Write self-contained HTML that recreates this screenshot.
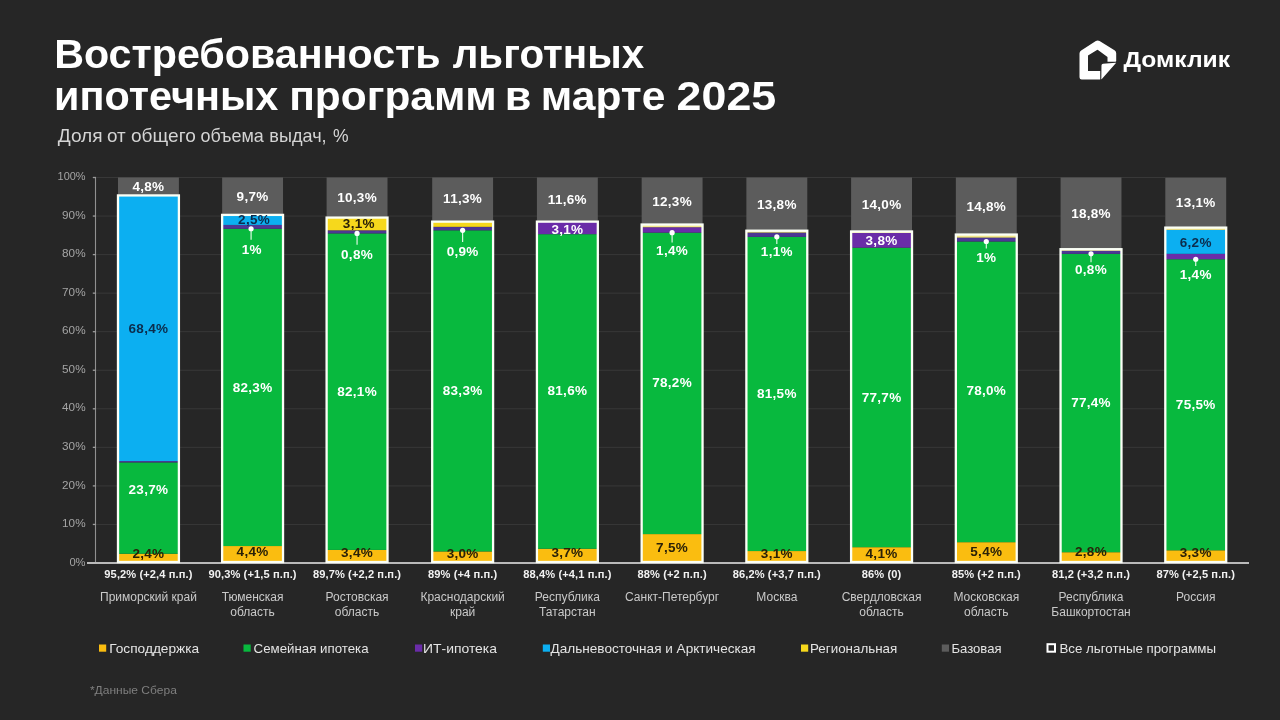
<!DOCTYPE html>
<html><head><meta charset="utf-8">
<style>
html,body{margin:0;padding:0;background:#262626;}
body{width:1280px;height:720px;overflow:hidden;}
svg{display:block;font-family:"Liberation Sans", sans-serif;will-change:transform;}
</style></head>
<body>
<svg width="1280" height="720" viewBox="0 0 1280 720">
<rect width="1280" height="720" fill="#262626"/>
<line x1="96" y1="524.45" x2="1165.30" y2="524.45" stroke="#383838" stroke-width="1"/>
<line x1="96" y1="485.90" x2="1165.30" y2="485.90" stroke="#383838" stroke-width="1"/>
<line x1="96" y1="447.35" x2="1165.30" y2="447.35" stroke="#383838" stroke-width="1"/>
<line x1="96" y1="408.80" x2="1165.30" y2="408.80" stroke="#383838" stroke-width="1"/>
<line x1="96" y1="370.25" x2="1165.30" y2="370.25" stroke="#383838" stroke-width="1"/>
<line x1="96" y1="331.70" x2="1165.30" y2="331.70" stroke="#383838" stroke-width="1"/>
<line x1="96" y1="293.15" x2="1165.30" y2="293.15" stroke="#383838" stroke-width="1"/>
<line x1="96" y1="254.60" x2="1165.30" y2="254.60" stroke="#383838" stroke-width="1"/>
<line x1="96" y1="216.05" x2="1165.30" y2="216.05" stroke="#383838" stroke-width="1"/>
<line x1="96" y1="177.50" x2="1165.30" y2="177.50" stroke="#383838" stroke-width="1"/>
<line x1="95.5" y1="177.50" x2="95.5" y2="563.00" stroke="#909090" stroke-width="1.1"/>
<line x1="92.8" y1="563.00" x2="96" y2="563.00" stroke="#9a9a9a" stroke-width="1.3"/>
<text x="69.40" y="565.60" font-size="11.6" fill="#a4a4a4" textLength="16.2" lengthAdjust="spacingAndGlyphs">0%</text>
<line x1="92.8" y1="524.45" x2="96" y2="524.45" stroke="#9a9a9a" stroke-width="1.3"/>
<text x="62.10" y="527.05" font-size="11.6" fill="#a4a4a4" textLength="23.5" lengthAdjust="spacingAndGlyphs">10%</text>
<line x1="92.8" y1="485.90" x2="96" y2="485.90" stroke="#9a9a9a" stroke-width="1.3"/>
<text x="62.10" y="488.50" font-size="11.6" fill="#a4a4a4" textLength="23.5" lengthAdjust="spacingAndGlyphs">20%</text>
<line x1="92.8" y1="447.35" x2="96" y2="447.35" stroke="#9a9a9a" stroke-width="1.3"/>
<text x="62.10" y="449.95" font-size="11.6" fill="#a4a4a4" textLength="23.5" lengthAdjust="spacingAndGlyphs">30%</text>
<line x1="92.8" y1="408.80" x2="96" y2="408.80" stroke="#9a9a9a" stroke-width="1.3"/>
<text x="62.10" y="411.40" font-size="11.6" fill="#a4a4a4" textLength="23.5" lengthAdjust="spacingAndGlyphs">40%</text>
<line x1="92.8" y1="370.25" x2="96" y2="370.25" stroke="#9a9a9a" stroke-width="1.3"/>
<text x="62.10" y="372.85" font-size="11.6" fill="#a4a4a4" textLength="23.5" lengthAdjust="spacingAndGlyphs">50%</text>
<line x1="92.8" y1="331.70" x2="96" y2="331.70" stroke="#9a9a9a" stroke-width="1.3"/>
<text x="62.10" y="334.30" font-size="11.6" fill="#a4a4a4" textLength="23.5" lengthAdjust="spacingAndGlyphs">60%</text>
<line x1="92.8" y1="293.15" x2="96" y2="293.15" stroke="#9a9a9a" stroke-width="1.3"/>
<text x="62.10" y="295.75" font-size="11.6" fill="#a4a4a4" textLength="23.5" lengthAdjust="spacingAndGlyphs">70%</text>
<line x1="92.8" y1="254.60" x2="96" y2="254.60" stroke="#9a9a9a" stroke-width="1.3"/>
<text x="62.10" y="257.20" font-size="11.6" fill="#a4a4a4" textLength="23.5" lengthAdjust="spacingAndGlyphs">80%</text>
<line x1="92.8" y1="216.05" x2="96" y2="216.05" stroke="#9a9a9a" stroke-width="1.3"/>
<text x="62.10" y="218.65" font-size="11.6" fill="#a4a4a4" textLength="23.5" lengthAdjust="spacingAndGlyphs">90%</text>
<line x1="92.8" y1="177.50" x2="96" y2="177.50" stroke="#9a9a9a" stroke-width="1.3"/>
<text x="57.60" y="180.10" font-size="11.6" fill="#a4a4a4" textLength="28" lengthAdjust="spacingAndGlyphs">100%</text>
<line x1="87" y1="563.00" x2="1249" y2="563.00" stroke="#bababa" stroke-width="2"/>
<rect x="118.00" y="553.75" width="60.90" height="9.25" fill="#fabd10"/>
<rect x="118.00" y="462.38" width="60.90" height="91.36" fill="#08b93e"/>
<rect x="118.00" y="461.04" width="60.90" height="1.35" fill="#4c3794"/>
<rect x="118.00" y="195.43" width="60.90" height="265.61" fill="#0caff1"/>
<rect x="118.00" y="177.50" width="60.90" height="17.93" fill="#5c5c5c"/>
<rect x="118.00" y="195.43" width="60.90" height="366.57" fill="none" stroke="#fbfff6" stroke-width="2.3"/>
<text x="148.45" y="191.00" text-anchor="middle" font-size="13.5" font-weight="bold" letter-spacing="0.3" fill="#fff">4,8%</text>
<text x="148.45" y="332.90" text-anchor="middle" font-size="13.5" font-weight="bold" letter-spacing="0.3" fill="#0c2c4c">68,4%</text>
<text x="148.45" y="494.00" text-anchor="middle" font-size="13.5" font-weight="bold" letter-spacing="0.3" fill="#fff">23,7%</text>
<text x="148.45" y="558.20" text-anchor="middle" font-size="13.5" font-weight="bold" letter-spacing="0.3" fill="#2a2108">2,4%</text>
<text x="148.45" y="578" text-anchor="middle" font-size="11.1" font-weight="bold" letter-spacing="0.1" fill="#f2f2f2">95,2% (+2,4 п.п.)</text>
<text x="148.45" y="601.00" text-anchor="middle" font-size="12" fill="#c9c9c9">Приморский край</text>
<rect x="222.13" y="546.04" width="60.90" height="16.96" fill="#fabd10"/>
<rect x="222.13" y="228.77" width="60.90" height="317.27" fill="#08b93e"/>
<rect x="222.13" y="224.92" width="60.90" height="3.86" fill="#4c3794"/>
<rect x="222.13" y="215.28" width="60.90" height="9.64" fill="#0caff1"/>
<rect x="222.13" y="214.89" width="60.90" height="0.39" fill="#f2e68c"/>
<rect x="222.13" y="177.50" width="60.90" height="37.39" fill="#5c5c5c"/>
<rect x="222.13" y="214.89" width="60.90" height="347.11" fill="none" stroke="#fbfff6" stroke-width="2.3"/>
<line x1="251.08" y1="228.77" x2="251.08" y2="239.80" stroke="#eefff0" stroke-width="1.1"/>
<circle cx="251.08" cy="228.77" r="2.6" fill="#fff"/>
<text x="252.58" y="201.40" text-anchor="middle" font-size="13.5" font-weight="bold" letter-spacing="0.3" fill="#fff">9,7%</text>
<text x="254.08" y="223.90" text-anchor="middle" font-size="13.5" font-weight="bold" letter-spacing="0.3" fill="#0c2c4c">2,5%</text>
<text x="251.78" y="253.70" text-anchor="middle" font-size="13.5" font-weight="bold" letter-spacing="0.3" fill="#fff">1%</text>
<text x="252.58" y="391.80" text-anchor="middle" font-size="13.5" font-weight="bold" letter-spacing="0.3" fill="#fff">82,3%</text>
<text x="252.58" y="556.30" text-anchor="middle" font-size="13.5" font-weight="bold" letter-spacing="0.3" fill="#2a2108">4,4%</text>
<text x="252.58" y="578" text-anchor="middle" font-size="11.1" font-weight="bold" letter-spacing="0.1" fill="#f2f2f2">90,3% (+1,5 п.п.)</text>
<text x="252.58" y="601.00" text-anchor="middle" font-size="12" fill="#c9c9c9">Тюменская</text>
<text x="252.58" y="615.70" text-anchor="middle" font-size="12" fill="#c9c9c9">область</text>
<rect x="326.61" y="549.89" width="60.90" height="13.11" fill="#fabd10"/>
<rect x="326.61" y="233.40" width="60.90" height="316.50" fill="#08b93e"/>
<rect x="326.61" y="230.31" width="60.90" height="3.08" fill="#4c3794"/>
<rect x="326.61" y="217.59" width="60.90" height="12.72" fill="#f6d81c"/>
<rect x="326.61" y="177.50" width="60.90" height="40.09" fill="#5c5c5c"/>
<rect x="326.61" y="217.59" width="60.90" height="344.41" fill="none" stroke="#fbfff6" stroke-width="2.3"/>
<line x1="357.06" y1="233.40" x2="357.06" y2="244.80" stroke="#eefff0" stroke-width="1.1"/>
<circle cx="357.06" cy="233.40" r="2.6" fill="#fff"/>
<text x="357.06" y="202.00" text-anchor="middle" font-size="13.5" font-weight="bold" letter-spacing="0.3" fill="#fff">10,3%</text>
<text x="358.86" y="228.30" text-anchor="middle" font-size="13.5" font-weight="bold" letter-spacing="0.3" fill="#2a2108">3,1%</text>
<text x="357.06" y="258.50" text-anchor="middle" font-size="13.5" font-weight="bold" letter-spacing="0.3" fill="#fff">0,8%</text>
<text x="357.06" y="395.60" text-anchor="middle" font-size="13.5" font-weight="bold" letter-spacing="0.3" fill="#fff">82,1%</text>
<text x="357.06" y="557.40" text-anchor="middle" font-size="13.5" font-weight="bold" letter-spacing="0.3" fill="#2a2108">3,4%</text>
<text x="357.06" y="578" text-anchor="middle" font-size="11.1" font-weight="bold" letter-spacing="0.1" fill="#f2f2f2">89,7% (+2,2 п.п.)</text>
<text x="357.06" y="601.00" text-anchor="middle" font-size="12" fill="#c9c9c9">Ростовская</text>
<text x="357.06" y="615.70" text-anchor="middle" font-size="12" fill="#c9c9c9">область</text>
<rect x="432.19" y="551.43" width="60.90" height="11.57" fill="#fabd10"/>
<rect x="432.19" y="230.31" width="60.90" height="321.12" fill="#08b93e"/>
<rect x="432.19" y="226.84" width="60.90" height="3.47" fill="#4c3794"/>
<rect x="432.19" y="221.64" width="60.90" height="5.20" fill="#f6d81c"/>
<rect x="432.19" y="177.50" width="60.90" height="44.14" fill="#5c5c5c"/>
<rect x="432.19" y="221.64" width="60.90" height="340.36" fill="none" stroke="#fbfff6" stroke-width="2.3"/>
<line x1="462.64" y1="230.31" x2="462.64" y2="241.90" stroke="#eefff0" stroke-width="1.1"/>
<circle cx="462.64" cy="230.31" r="2.6" fill="#fff"/>
<text x="462.64" y="203.30" text-anchor="middle" font-size="13.5" font-weight="bold" letter-spacing="0.3" fill="#fff">11,3%</text>
<text x="462.64" y="255.70" text-anchor="middle" font-size="13.5" font-weight="bold" letter-spacing="0.3" fill="#fff">0,9%</text>
<text x="462.64" y="394.90" text-anchor="middle" font-size="13.5" font-weight="bold" letter-spacing="0.3" fill="#fff">83,3%</text>
<text x="462.64" y="558.20" text-anchor="middle" font-size="13.5" font-weight="bold" letter-spacing="0.3" fill="#2a2108">3,0%</text>
<text x="462.64" y="578" text-anchor="middle" font-size="11.1" font-weight="bold" letter-spacing="0.1" fill="#f2f2f2">89% (+4 п.п.)</text>
<text x="462.64" y="601.00" text-anchor="middle" font-size="12" fill="#c9c9c9">Краснодарский</text>
<text x="462.64" y="615.70" text-anchor="middle" font-size="12" fill="#c9c9c9">край</text>
<rect x="536.92" y="548.74" width="60.90" height="14.26" fill="#fabd10"/>
<rect x="536.92" y="234.17" width="60.90" height="314.57" fill="#08b93e"/>
<rect x="536.92" y="221.64" width="60.90" height="12.53" fill="#6a2ca8"/>
<rect x="536.92" y="177.50" width="60.90" height="44.14" fill="#5c5c5c"/>
<rect x="536.92" y="221.64" width="60.90" height="340.36" fill="none" stroke="#fbfff6" stroke-width="2.3"/>
<text x="567.37" y="204.00" text-anchor="middle" font-size="13.5" font-weight="bold" letter-spacing="0.3" fill="#fff">11,6%</text>
<text x="567.37" y="233.50" text-anchor="middle" font-size="13.5" font-weight="bold" letter-spacing="0.3" fill="#fff">3,1%</text>
<text x="567.37" y="394.90" text-anchor="middle" font-size="13.5" font-weight="bold" letter-spacing="0.3" fill="#fff">81,6%</text>
<text x="567.37" y="557.40" text-anchor="middle" font-size="13.5" font-weight="bold" letter-spacing="0.3" fill="#2a2108">3,7%</text>
<text x="567.37" y="578" text-anchor="middle" font-size="11.1" font-weight="bold" letter-spacing="0.1" fill="#f2f2f2">88,4% (+4,1 п.п.)</text>
<text x="567.37" y="601.00" text-anchor="middle" font-size="12" fill="#c9c9c9">Республика</text>
<text x="567.37" y="615.70" text-anchor="middle" font-size="12" fill="#c9c9c9">Татарстан</text>
<rect x="641.65" y="534.09" width="60.90" height="28.91" fill="#fabd10"/>
<rect x="641.65" y="232.63" width="60.90" height="301.46" fill="#08b93e"/>
<rect x="641.65" y="227.23" width="60.90" height="5.40" fill="#6a2ca8"/>
<rect x="641.65" y="224.53" width="60.90" height="2.70" fill="#f2e68c"/>
<rect x="641.65" y="177.50" width="60.90" height="47.03" fill="#5c5c5c"/>
<rect x="641.65" y="224.53" width="60.90" height="337.47" fill="none" stroke="#fbfff6" stroke-width="2.3"/>
<line x1="672.10" y1="232.63" x2="672.10" y2="242.40" stroke="#eefff0" stroke-width="1.1"/>
<circle cx="672.10" cy="232.63" r="2.6" fill="#fff"/>
<text x="672.10" y="205.55" text-anchor="middle" font-size="13.5" font-weight="bold" letter-spacing="0.3" fill="#fff">12,3%</text>
<text x="672.10" y="255.00" text-anchor="middle" font-size="13.5" font-weight="bold" letter-spacing="0.3" fill="#fff">1,4%</text>
<text x="672.10" y="387.10" text-anchor="middle" font-size="13.5" font-weight="bold" letter-spacing="0.3" fill="#fff">78,2%</text>
<text x="672.10" y="552.30" text-anchor="middle" font-size="13.5" font-weight="bold" letter-spacing="0.3" fill="#2a2108">7,5%</text>
<text x="672.10" y="578" text-anchor="middle" font-size="11.1" font-weight="bold" letter-spacing="0.1" fill="#f2f2f2">88% (+2 п.п.)</text>
<text x="672.10" y="601.00" text-anchor="middle" font-size="12" fill="#c9c9c9">Санкт-Петербург</text>
<rect x="746.38" y="551.05" width="60.90" height="11.95" fill="#fabd10"/>
<rect x="746.38" y="236.87" width="60.90" height="314.18" fill="#08b93e"/>
<rect x="746.38" y="232.63" width="60.90" height="4.24" fill="#4c3794"/>
<rect x="746.38" y="230.70" width="60.90" height="1.93" fill="#f2e68c"/>
<rect x="746.38" y="177.50" width="60.90" height="53.20" fill="#5c5c5c"/>
<rect x="746.38" y="230.70" width="60.90" height="331.30" fill="none" stroke="#fbfff6" stroke-width="2.3"/>
<line x1="776.83" y1="236.87" x2="776.83" y2="243.90" stroke="#eefff0" stroke-width="1.1"/>
<circle cx="776.83" cy="236.87" r="2.6" fill="#fff"/>
<text x="776.83" y="208.70" text-anchor="middle" font-size="13.5" font-weight="bold" letter-spacing="0.3" fill="#fff">13,8%</text>
<text x="776.83" y="255.90" text-anchor="middle" font-size="13.5" font-weight="bold" letter-spacing="0.3" fill="#fff">1,1%</text>
<text x="776.83" y="398.00" text-anchor="middle" font-size="13.5" font-weight="bold" letter-spacing="0.3" fill="#fff">81,5%</text>
<text x="776.83" y="558.20" text-anchor="middle" font-size="13.5" font-weight="bold" letter-spacing="0.3" fill="#2a2108">3,1%</text>
<text x="776.83" y="578" text-anchor="middle" font-size="11.1" font-weight="bold" letter-spacing="0.1" fill="#f2f2f2">86,2% (+3,7 п.п.)</text>
<text x="776.83" y="601.00" text-anchor="middle" font-size="12" fill="#c9c9c9">Москва</text>
<rect x="851.11" y="547.19" width="60.90" height="15.81" fill="#fabd10"/>
<rect x="851.11" y="247.66" width="60.90" height="299.53" fill="#08b93e"/>
<rect x="851.11" y="233.01" width="60.90" height="14.65" fill="#6a2ca8"/>
<rect x="851.11" y="231.47" width="60.90" height="1.54" fill="#f2e68c"/>
<rect x="851.11" y="177.50" width="60.90" height="53.97" fill="#5c5c5c"/>
<rect x="851.11" y="231.47" width="60.90" height="330.53" fill="none" stroke="#fbfff6" stroke-width="2.3"/>
<text x="881.56" y="209.00" text-anchor="middle" font-size="13.5" font-weight="bold" letter-spacing="0.3" fill="#fff">14,0%</text>
<text x="881.56" y="244.80" text-anchor="middle" font-size="13.5" font-weight="bold" letter-spacing="0.3" fill="#fff">3,8%</text>
<text x="881.56" y="401.90" text-anchor="middle" font-size="13.5" font-weight="bold" letter-spacing="0.3" fill="#fff">77,7%</text>
<text x="881.56" y="558.20" text-anchor="middle" font-size="13.5" font-weight="bold" letter-spacing="0.3" fill="#2a2108">4,1%</text>
<text x="881.56" y="578" text-anchor="middle" font-size="11.1" font-weight="bold" letter-spacing="0.1" fill="#f2f2f2">86% (0)</text>
<text x="881.56" y="601.00" text-anchor="middle" font-size="12" fill="#c9c9c9">Свердловская</text>
<text x="881.56" y="615.70" text-anchor="middle" font-size="12" fill="#c9c9c9">область</text>
<rect x="955.84" y="542.18" width="60.90" height="20.82" fill="#fabd10"/>
<rect x="955.84" y="241.49" width="60.90" height="300.69" fill="#08b93e"/>
<rect x="955.84" y="237.64" width="60.90" height="3.86" fill="#4c3794"/>
<rect x="955.84" y="234.55" width="60.90" height="3.08" fill="#f2e68c"/>
<rect x="955.84" y="177.50" width="60.90" height="57.05" fill="#5c5c5c"/>
<rect x="955.84" y="234.55" width="60.90" height="327.45" fill="none" stroke="#fbfff6" stroke-width="2.3"/>
<line x1="986.29" y1="241.49" x2="986.29" y2="248.50" stroke="#eefff0" stroke-width="1.1"/>
<circle cx="986.29" cy="241.49" r="2.6" fill="#fff"/>
<text x="986.29" y="210.70" text-anchor="middle" font-size="13.5" font-weight="bold" letter-spacing="0.3" fill="#fff">14,8%</text>
<text x="986.29" y="262.20" text-anchor="middle" font-size="13.5" font-weight="bold" letter-spacing="0.3" fill="#fff">1%</text>
<text x="986.29" y="394.90" text-anchor="middle" font-size="13.5" font-weight="bold" letter-spacing="0.3" fill="#fff">78,0%</text>
<text x="986.29" y="556.30" text-anchor="middle" font-size="13.5" font-weight="bold" letter-spacing="0.3" fill="#2a2108">5,4%</text>
<text x="986.29" y="578" text-anchor="middle" font-size="11.1" font-weight="bold" letter-spacing="0.1" fill="#f2f2f2">85% (+2 п.п.)</text>
<text x="986.29" y="601.00" text-anchor="middle" font-size="12" fill="#c9c9c9">Московская</text>
<text x="986.29" y="615.70" text-anchor="middle" font-size="12" fill="#c9c9c9">область</text>
<rect x="1060.57" y="552.21" width="60.90" height="10.79" fill="#fabd10"/>
<rect x="1060.57" y="253.83" width="60.90" height="298.38" fill="#08b93e"/>
<rect x="1060.57" y="250.75" width="60.90" height="3.08" fill="#4c3794"/>
<rect x="1060.57" y="249.20" width="60.90" height="1.54" fill="#f2e68c"/>
<rect x="1060.57" y="177.50" width="60.90" height="71.70" fill="#5c5c5c"/>
<rect x="1060.57" y="249.20" width="60.90" height="312.80" fill="none" stroke="#fbfff6" stroke-width="2.3"/>
<line x1="1091.02" y1="253.83" x2="1091.02" y2="262.20" stroke="#eefff0" stroke-width="1.1"/>
<circle cx="1091.02" cy="253.83" r="2.6" fill="#fff"/>
<text x="1091.02" y="218.30" text-anchor="middle" font-size="13.5" font-weight="bold" letter-spacing="0.3" fill="#fff">18,8%</text>
<text x="1091.02" y="274.30" text-anchor="middle" font-size="13.5" font-weight="bold" letter-spacing="0.3" fill="#fff">0,8%</text>
<text x="1091.02" y="406.50" text-anchor="middle" font-size="13.5" font-weight="bold" letter-spacing="0.3" fill="#fff">77,4%</text>
<text x="1091.02" y="556.30" text-anchor="middle" font-size="13.5" font-weight="bold" letter-spacing="0.3" fill="#2a2108">2,8%</text>
<text x="1091.02" y="578" text-anchor="middle" font-size="11.1" font-weight="bold" letter-spacing="0.1" fill="#f2f2f2">81,2 (+3,2 п.п.)</text>
<text x="1091.02" y="601.00" text-anchor="middle" font-size="12" fill="#c9c9c9">Республика</text>
<text x="1091.02" y="615.70" text-anchor="middle" font-size="12" fill="#c9c9c9">Башкортостан</text>
<rect x="1165.30" y="550.28" width="60.90" height="12.72" fill="#fabd10"/>
<rect x="1165.30" y="259.23" width="60.90" height="291.05" fill="#08b93e"/>
<rect x="1165.30" y="253.83" width="60.90" height="5.40" fill="#6a2ca8"/>
<rect x="1165.30" y="229.93" width="60.90" height="23.90" fill="#0caff1"/>
<rect x="1165.30" y="227.62" width="60.90" height="2.31" fill="#f2e68c"/>
<rect x="1165.30" y="177.50" width="60.90" height="50.12" fill="#5c5c5c"/>
<rect x="1165.30" y="227.62" width="60.90" height="334.38" fill="none" stroke="#fbfff6" stroke-width="2.3"/>
<line x1="1195.75" y1="259.23" x2="1195.75" y2="266.00" stroke="#eefff0" stroke-width="1.1"/>
<circle cx="1195.75" cy="259.23" r="2.6" fill="#fff"/>
<text x="1195.75" y="207.30" text-anchor="middle" font-size="13.5" font-weight="bold" letter-spacing="0.3" fill="#fff">13,1%</text>
<text x="1195.75" y="246.90" text-anchor="middle" font-size="13.5" font-weight="bold" letter-spacing="0.3" fill="#0c2c4c">6,2%</text>
<text x="1195.75" y="278.70" text-anchor="middle" font-size="13.5" font-weight="bold" letter-spacing="0.3" fill="#fff">1,4%</text>
<text x="1195.75" y="408.50" text-anchor="middle" font-size="13.5" font-weight="bold" letter-spacing="0.3" fill="#fff">75,5%</text>
<text x="1195.75" y="557.40" text-anchor="middle" font-size="13.5" font-weight="bold" letter-spacing="0.3" fill="#2a2108">3,3%</text>
<text x="1195.75" y="578" text-anchor="middle" font-size="11.1" font-weight="bold" letter-spacing="0.1" fill="#f2f2f2">87% (+2,5 п.п.)</text>
<text x="1195.75" y="601.00" text-anchor="middle" font-size="12" fill="#c9c9c9">Россия</text>
<rect x="99" y="644.5" width="7.2" height="7.2" fill="#fabd10"/>
<text x="109.2" y="653.3" font-size="13" fill="#e4e4e4" textLength="90" lengthAdjust="spacingAndGlyphs">Господдержка</text>
<rect x="243.5" y="644.5" width="7.2" height="7.2" fill="#08b93e"/>
<text x="253.6" y="653.3" font-size="13" fill="#e4e4e4" textLength="115" lengthAdjust="spacingAndGlyphs">Семейная ипотека</text>
<rect x="415" y="644.5" width="7.2" height="7.2" fill="#6a2ca8"/>
<text x="423" y="653.3" font-size="13" fill="#e4e4e4" textLength="74" lengthAdjust="spacingAndGlyphs">ИТ-ипотека</text>
<rect x="542.8" y="644.5" width="7.2" height="7.2" fill="#0caff1"/>
<text x="550.6" y="653.3" font-size="13" fill="#e4e4e4" textLength="205" lengthAdjust="spacingAndGlyphs">Дальневосточная и Арктическая</text>
<rect x="801" y="644.5" width="7.2" height="7.2" fill="#f6d81c"/>
<text x="810" y="653.3" font-size="13" fill="#e4e4e4" textLength="87.3" lengthAdjust="spacingAndGlyphs">Региональная</text>
<rect x="941.8" y="644.5" width="7.2" height="7.2" fill="#5c5c5c"/>
<text x="951.5" y="653.3" font-size="13" fill="#e4e4e4" textLength="50" lengthAdjust="spacingAndGlyphs">Базовая</text>
<rect x="1047.5" y="644.2" width="7.5" height="7.5" fill="none" stroke="#fff" stroke-width="2"/>
<text x="1059.5" y="653.3" font-size="13" fill="#e4e4e4" textLength="156.5" lengthAdjust="spacingAndGlyphs">Все льготные программы</text>
<text x="89.9" y="693.6" font-size="11.5" fill="#7f7f7f" textLength="87" lengthAdjust="spacingAndGlyphs">*Данные Сбера</text>
<text x="54.16" y="68.3" font-size="40" font-weight="bold" fill="#fff" textLength="386.5" lengthAdjust="spacingAndGlyphs">Востребованность</text>
<text x="452.69" y="68.3" font-size="40" font-weight="bold" fill="#fff" textLength="191.4" lengthAdjust="spacingAndGlyphs">льготных</text>
<text x="54.06" y="109.7" font-size="40" font-weight="bold" fill="#fff" textLength="224.3" lengthAdjust="spacingAndGlyphs">ипотечных</text>
<text x="289.24" y="109.7" font-size="40" font-weight="bold" fill="#fff" textLength="207.5" lengthAdjust="spacingAndGlyphs">программ</text>
<text x="504.78" y="109.7" font-size="40" font-weight="bold" fill="#fff" textLength="26.6" lengthAdjust="spacingAndGlyphs">в</text>
<text x="540.8" y="109.7" font-size="40" font-weight="bold" fill="#fff" textLength="124.6" lengthAdjust="spacingAndGlyphs">марте</text>
<text x="676.55" y="109.7" font-size="40" font-weight="bold" fill="#fff" textLength="99.7" lengthAdjust="spacingAndGlyphs">2025</text>
<text x="57.76" y="142.4" font-size="19" fill="#d4d4d4" textLength="44.86" lengthAdjust="spacingAndGlyphs">Доля</text>
<text x="106.93" y="142.4" font-size="19" fill="#d4d4d4" textLength="18.69" lengthAdjust="spacingAndGlyphs">от</text>
<text x="131.01" y="142.4" font-size="19" fill="#d4d4d4" textLength="64.79" lengthAdjust="spacingAndGlyphs">общего</text>
<text x="200.5" y="142.4" font-size="19" fill="#d4d4d4" textLength="63.25" lengthAdjust="spacingAndGlyphs">объема</text>
<text x="269.35" y="142.4" font-size="19" fill="#d4d4d4" textLength="57.26" lengthAdjust="spacingAndGlyphs">выдач,</text>
<text x="333.12" y="142.4" font-size="19" fill="#d4d4d4" textLength="15.6" lengthAdjust="spacingAndGlyphs">%</text>
<path d="M1095.85 40.99 Q1097.70 39.80 1099.57 40.96 L1114.50 50.24 Q1116.20 51.30 1116.20 53.30 L1116.20 60.90 Q1116.20 61.70 1115.40 61.70 L1107.50 61.70 L1107.50 56.90 L1097.98 49.95 Q1097.50 49.60 1096.99 49.92 L1088.00 55.50 L1088.00 71.10 L1100.20 71.10 L1100.20 79.50 L1081.70 79.50 Q1079.50 79.50 1079.50 77.30 L1079.50 53.50 Q1079.50 51.50 1081.18 50.42 Z" fill="#fff"/>
<path d="M1101.48 65.50 Q1101.50 63.90 1103.09 63.76 L1115.80 62.64 Q1116.30 62.60 1115.97 62.97 L1101.63 79.13 Q1101.30 79.50 1101.31 79.00 Z" fill="#fff"/>
<text x="1123.5" y="66.7" font-size="21.5" font-weight="bold" fill="#fff" textLength="106.6" lengthAdjust="spacingAndGlyphs">Домклик</text>
</svg>
</body></html>
